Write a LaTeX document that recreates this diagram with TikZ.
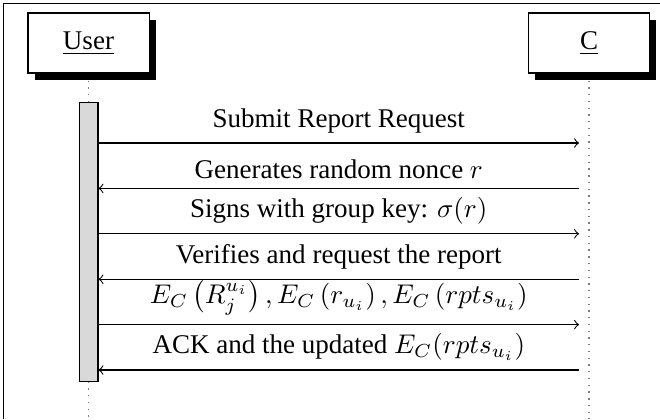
\documentclass[tikz,border=0pt]{standalone}
\usepackage{fontspec}
\setmainfont{Liberation Serif}
\usepackage{tikz}
\usetikzlibrary{shadows}
\tikzset{actor/.style={draw, fill=white, minimum width=44.8pt, minimum height=22.2pt,
		drop shadow={shadow xshift=2.5pt, shadow yshift=-2.5pt, fill=black, opacity=1}},
	lifeline/.style={gray, dotted, line width=0.5pt},
	active/.style={draw, fill=gray!30, minimum width=7pt, minimum height=102.9pt, inner sep=0pt}}

\begin{document}
\begin{tikzpicture}
    [x=0.37pt, y=-0.37pt, >=to]
    \useasboundingbox (0,0) rectangle (660,419);
    % frame
    \coordinate (f1) at (3.5,419);
    \coordinate (f2) at (3.5,3.5);
    \coordinate (f3) at (660,3.5);
    \draw (f1) -- (f2) -- (f3);
    % instances
    \node[actor] (user) at (88.5,43){\underline{User}};
    \node[actor] (c) at (589,43){\underline{C}};
    \node[active] (act) at (88.5,242){};
    \coordinate (uend) at (88.5,419);
    \coordinate (cend) at (589,419);
    \draw[lifeline, shorten <=2.6pt] (user) -- (act);
    \draw[lifeline] (act) -- (uend);
    \draw[lifeline, shorten <=2.6pt] (c) -- (cend);
    % messages
    \coordinate (u1) at (98.5,143);   \coordinate (c1) at (579,143);
    \coordinate (u2) at (98.5,188.4); \coordinate (c2) at (579,188.4);
    \coordinate (u3) at (98.5,233.8); \coordinate (c3) at (579,233.8);
    \coordinate (u4) at (98.5,279.2); \coordinate (c4) at (579,279.2);
    \coordinate (u5) at (98.5,324.6); \coordinate (c5) at (579,324.6);
    \coordinate (u6) at (98.5,370);   \coordinate (c6) at (579,370);
    \draw[->] (u1) to node[above]{Submit Report Request} (c1);
    \draw[->] (c2) to node[above]{Generates random nonce $r$} (u2);
    \draw[->] (u3) to node[above]{Signs with group key: $\sigma(r)$} (c3);
    \draw[->] (c4) to node[above]{Verifies and request the report} (u4);
    \draw[->] (u5) to node[above]{$E_C\left(R_j^{u_i}\right), E_C\left(r_{u_i}\right), E_C\left(rpts_{u_i}\right)$} (c5);
    \draw[->] (c6) to node[above]{ACK and the updated $E_C(rpts_{u_i})$} (u6);
\end{tikzpicture}
\end{document}
